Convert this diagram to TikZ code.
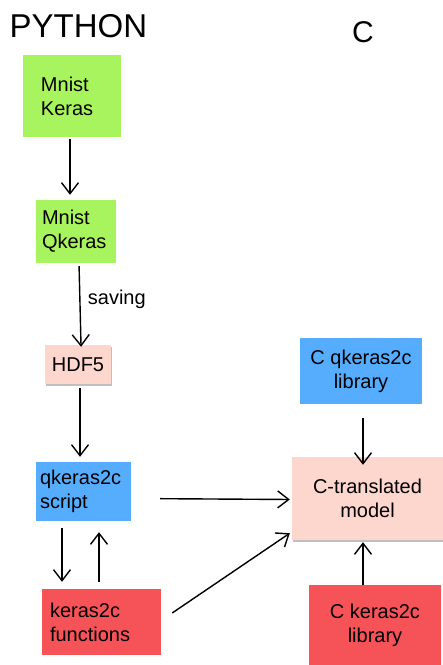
\documentclass[tikz,border=0pt]{standalone}
\usepackage{fontspec}
\setmainfont{Liberation Sans}
\usetikzlibrary{arrows.meta,shadows,calc}
\definecolor{bgreen}{HTML}{A8F45E}
\definecolor{bblue}{HTML}{56ADFD}
\definecolor{bred}{HTML}{F55358}
\definecolor{bpink}{HTML}{FDD6CD}
\begin{document}
\begin{tikzpicture}[x=1pt,y=-1pt,
  box/.style={inner ysep=0pt,font=\fontsize{20}{24}\selectfont},
  lbox/.style={box,align=left},
  cbox/.style={box,align=center},
  shad/.style={drop shadow={shadow xshift=1pt,shadow yshift=-2pt,opacity=0.25,fill=black}},
  conn/.style={line width=1.4pt,-{Straight Barb[length=11pt,width=17pt,line width=1.4pt]}},
  title/.style={inner sep=0pt,anchor=base}]
\useasboundingbox (0,0) rectangle (443,665);
\fill[white] (0,0) rectangle (443,665);
\node[title,anchor=base west,font=\fontsize{33}{36}\selectfont] (py) at (9.5,37.5) {PYTHON};
\node[title,font=\fontsize{30}{34}\selectfont] (cc) at (363,42) {C};
% python side
\node[lbox,fill=bgreen,minimum width=98pt,minimum height=82pt,inner xsep=18pt,text width=62pt] (mk) at (72,96) {Mnist\\Keras};
\node[lbox,fill=bgreen,minimum width=80pt,minimum height=63pt,inner xsep=6pt,text width=68pt] (mq) at (76,231.5) {Mnist\\Qkeras};
\node[cbox,fill=bpink,shad,minimum width=66pt,minimum height=39pt] (hdf) at (78,364.5) {HDF5};
\node[lbox,fill=bblue,minimum width=95pt,minimum height=59pt,inner xsep=4pt,text width=87pt] (sc) at (83.5,491.5) {qkeras2c\\script};
\node[lbox,fill=bred,minimum width=119pt,minimum height=66pt,inner xsep=8pt,text width=103pt] (fn) at (101.5,622) {keras2c\\functions};
% C side
\node[cbox,fill=bblue,minimum width=122pt,minimum height=66pt] (ccl) at (361,371) {C qkeras2c\\library};
\node[cbox,fill=bpink,shad,minimum width=151pt,minimum height=83pt] (model) at (367.5,498.5) {C-translated\\model};
\node[cbox,fill=bred,minimum width=132pt,minimum height=80pt] (ckl) at (375,625) {C keras2c\\library};
% connectors
\draw[conn,shorten <=2pt,shorten >=5pt] ([xshift=-2pt]mk.south) -- ([xshift=-2pt]mk.south |- mq.north);
\draw[conn,shorten <=3pt,shorten >=-2pt] ([xshift=3pt]mq.south) -- node[right=4pt,font=\fontsize{20}{24}\selectfont,pos=0.44] (sv) {saving} ([xshift=3pt]hdf.north);
\draw[conn,shorten <=4pt,shorten >=5pt] ([xshift=2pt]hdf.south) -- ([xshift=2pt]hdf.south |- sc.north);
\draw[conn,shorten <=29pt,shorten >=2pt] ([yshift=-7pt]sc.east) -- ([yshift=-1pt]model.west);
\draw[conn,shorten <=7pt,shorten >=7pt] ([xshift=-21.5pt]sc.south) -- ([xshift=-21.5pt]sc.south |- fn.north);
\draw[conn,shorten <=7pt,shorten >=11pt] ([xshift=-2.5pt]fn.north) -- ([xshift=-2.5pt]fn.north |- sc.south);
\draw[conn] ([shift={(11pt,9pt)}]fn.east) -- ([shift={(-2pt,7pt)}]model.south west);
\draw[conn,shorten <=14pt,shorten >=-8pt] ([xshift=2pt]ccl.south) -- ([xshift=2pt]ccl.south |- model.north);
\draw[conn,shorten >=2pt] ([xshift=-12pt]ckl.north) -- ([xshift=-12pt]ckl.north |- model.south);
\end{tikzpicture}
\end{document}
